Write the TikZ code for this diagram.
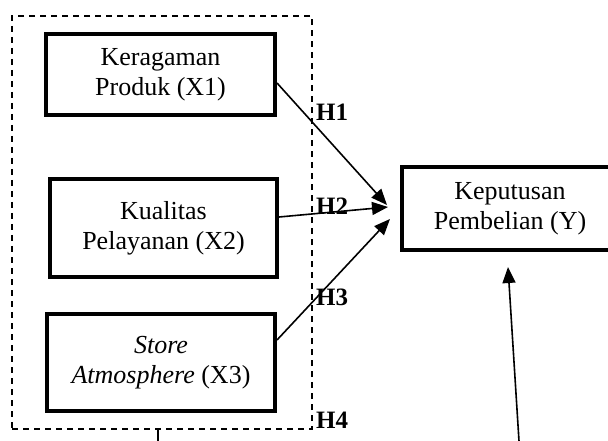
\documentclass[tikz,border=0pt]{standalone}
\usepackage{fontspec}
\setmainfont{Liberation Serif}
\usetikzlibrary{arrows.meta,calc}
\begin{document}
\begin{tikzpicture}[x=1pt,y=-1pt,
  varbox/.style={draw,line width=4pt,align=center,inner sep=0pt,
    font=\fontsize{26}{30}\selectfont},
  grp/.style={draw,dashed,dash pattern=on 6pt off 5pt,line width=1.4pt,inner sep=0pt},
  link/.style={line width=1.6pt,-{Triangle[length=16pt,width=13pt]}},
  hyp/.style={font=\fontsize{25}{28}\selectfont\bfseries,inner sep=0pt,anchor=west}]
  \clip (0,0) rectangle (608,441);
  \useasboundingbox (0,0) rectangle (608,441);

  % grouping frame around the independent variables
  \node[grp,minimum width=300pt,minimum height=413pt] (grp) at (162,222.5) {};

  % independent variables
  \node[varbox,minimum width=229pt,minimum height=81pt] (x1) at (160.5,74.5)
    {Keragaman\\Produk (X1)};
  \node[varbox,minimum width=227pt,minimum height=98pt] (x2) at (163.5,228)
    {Kualitas\\Pelayanan (X2)};
  \node[varbox,minimum width=228pt,minimum height=97pt] (x3) at (161,362.5)
    {\textit{Store}\\\textit{Atmosphere} (X3)};

  % dependent variable (runs off the right edge)
  \node[varbox,minimum width=216pt,minimum height=83pt] (y) at (510,208.5)
    {Keputusan\\Pembelian (Y)};

  % arrow tips and free line ends
  \coordinate (t1) at (387,205);
  \coordinate (t2) at (388,207);
  \coordinate (t3) at (390,219);
  \coordinate (t4) at (508,267);
  \coordinate (b4) at (519,441);
  \coordinate (g4) at (158,441);

  \draw[link] ($(x1.east)+(0,8.5)$) -- (t1);
  \draw[link] ($(x2.east)+(0,-11)$) -- (t2);
  \draw[link] ($(x3.east)+(0,-22.5)$) -- (t3);
  \draw[link] (b4) -- (t4);
  \draw[line width=1.6pt] (grp.south -| g4) -- (g4);

  % hypothesis labels
  \node[hyp] (h1) at (316,112) {H1};
  \node[hyp] (h2) at (316,206) {H2};
  \node[hyp] (h3) at (316,297) {H3};
  \node[hyp] (h4) at (316,420) {H4};
\end{tikzpicture}
\end{document}
